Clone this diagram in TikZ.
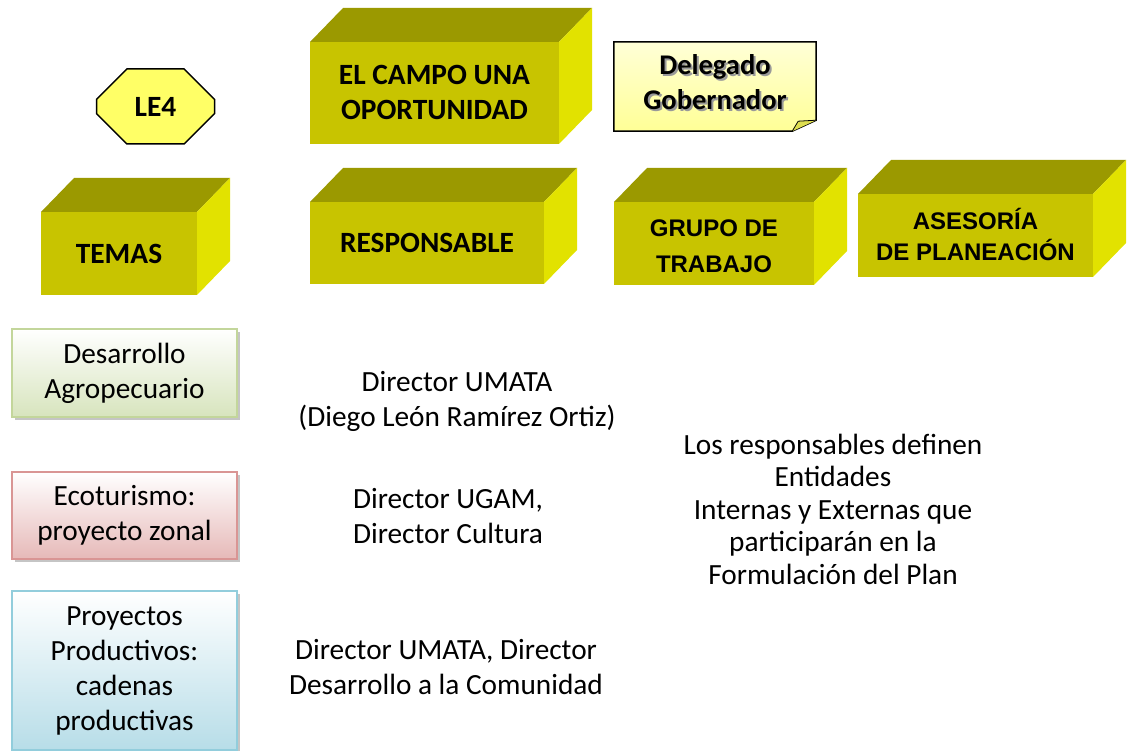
\documentclass[tikz,border=0pt]{standalone}
\usepackage{fontspec}
\setmainfont{Carlito}
\newfontfamily\arial{Liberation Sans}
\usetikzlibrary{shapes.misc,shadows,backgrounds}

\definecolor{frente}{RGB}{200,196,0}
\definecolor{tapa}{RGB}{155,153,0}
\definecolor{lado}{RGB}{226,226,0}
\definecolor{octa}{RGB}{255,255,102}
\definecolor{verdeb}{RGB}{195,214,155}
\definecolor{verdef}{RGB}{215,228,189}
\definecolor{rojob}{RGB}{217,149,148}
\definecolor{rojof}{RGB}{230,185,184}
\definecolor{azulb}{RGB}{146,205,220}
\definecolor{azulf}{RGB}{183,221,232}
\definecolor{notaa}{RGB}{255,255,215}
\definecolor{notab}{RGB}{255,255,150}
\definecolor{pliegue}{RGB}{222,222,80}

% caras de arriba y del lado de un cubo
\newcommand{\caras}[1]{
  \fill[tapa] (#1.north west) -- ++(33,-34) -- ([shift={(33,-34)}]#1.north east) -- (#1.north east) -- cycle;
  \fill[lado] (#1.north east) -- ++(33,-34) -- ([shift={(33,-34)}]#1.south east) -- (#1.south east) -- cycle;
}
% una linea bajada, sin alto ni fondo
\newcommand{\linea}[2]{\raisebox{-#1pt}[0pt][0pt]{#2}}
% texto con sombra gris
\newcommand{\sombra}[1]{\makebox[0pt][l]{\hspace{2pt}\raisebox{-2pt}{\color{black!40}#1}}#1}

\begin{document}
\begin{tikzpicture}[x=1pt,y=-1pt,
    cubo/.style={rectangle,fill=frente,inner sep=0pt,outer sep=0pt,align=center,
      font=\fontsize{29.4}{35}\selectfont\bfseries},
    tema/.style={rectangle,line width=2pt,inner sep=0pt,align=center,minimum width=225,
      font=\fontsize{29.3}{35}\selectfont,
      drop shadow={shadow xshift=3pt,shadow yshift=-3pt,fill=black!45}},
    texto/.style={align=center,font=\fontsize{29.3}{35}\selectfont}]
  \useasboundingbox (0,0) rectangle (1128,751);

  % cubos
  \node[cubo,minimum width=156,minimum height=83] (temas) at (119,253.5) {TEMAS};
  \node[cubo,minimum width=249,minimum height=102] (campo) at (434.5,93) {\linea{9.5}{EL CAMPO UNA}\\\linea{9.5}{OPORTUNIDAD}};
  \node[cubo,minimum width=234,minimum height=82] (resp) at (427,243) {RESPONSABLE};
  \node[cubo,minimum width=200,minimum height=83,font=\arial\bfseries\fontsize{24}{36}\selectfont] (grupo) at (714,243.5) {\linea{11.5}{GRUPO DE}\\\linea{11.5}{TRABAJO}};
  \node[cubo,minimum width=235,minimum height=83,font=\arial\bfseries\fontsize{24}{31}\selectfont] (asesoria) at (975.5,235.5) {\linea{10}{ASESORÍA}\\\linea{10}{DE PLANEACIÓN}};
  \caras{temas}
  \caras{campo}
  \caras{resp}
  \caras{grupo}
  \caras{asesoria}

  \node[chamfered rectangle,chamfered rectangle xsep=21pt,chamfered rectangle ysep=21pt,
    minimum width=118,minimum height=75,inner sep=0pt,fill=octa,draw,line width=1.5pt,
    font=\fontsize{29.4}{35}\selectfont\bfseries] (le4) at (155.5,106.5) {LE4};

  \node[minimum width=202,minimum height=89,inner sep=0pt,align=center,
    font=\fontsize{28.5}{35}\selectfont\bfseries] (deleg) at (715,86.5) {\linea{6}{\sombra{Delegado}}\\\linea{6}{\sombra{Gobernador}}};
  \begin{scope}[on background layer]
    \draw[line width=1.5pt,top color=notaa,bottom color=notab] (deleg.north west) -- (deleg.north east)
      -- ([shift={(0,-11)}]deleg.south east) -- ([shift={(-24,0)}]deleg.south east) -- (deleg.south west) -- cycle;
    \draw[fill=pliegue,line width=0.8pt] ([shift={(-24,0)}]deleg.south east) -- ([shift={(-18,-10)}]deleg.south east)
      -- ([shift={(0,-11)}]deleg.south east);
  \end{scope}

  % temas
  \node[tema,draw=verdeb,top color=white,bottom color=verdef,minimum height=88] (des) at (124.5,373) {Desarrollo\\Agropecuario};
  \node[tema,draw=rojob,top color=white,bottom color=rojof,minimum height=87] (eco) at (124.5,515.5) {Ecoturismo:\\proyecto zonal};
  \node[tema,draw=azulb,top color=white,bottom color=azulf,minimum height=159] (proy) at (124.5,670.5) {Proyectos\\Productivos:\\cadenas\\productivas};

  % responsables
  \node[texto] (umata) at (457,401) {Director UMATA\\(Diego León Ramírez Ortiz)};
  \node[texto] (ugam) at (448,516) {Director UGAM,\\Director Cultura};
  \node[texto] (comunidad) at (446,667.5) {Director UMATA, Director\\Desarrollo a la Comunidad};
  \node[texto,font=\fontsize{29.3}{32.5}\selectfont] (entidades) at (833,509) {Los responsables definen\\Entidades\\Internas y Externas que\\participarán en la\\Formulación del Plan};
\end{tikzpicture}
\end{document}
